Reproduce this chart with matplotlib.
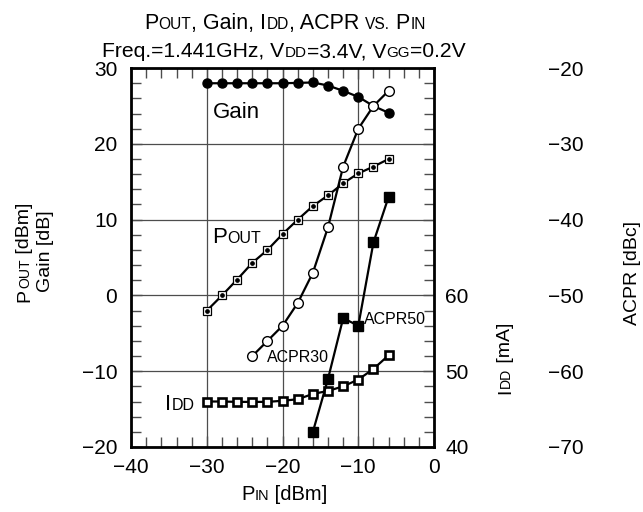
import numpy as np
import matplotlib
matplotlib.use("Agg")
import matplotlib.pyplot as plt
from matplotlib.ticker import MultipleLocator
from matplotlib.transforms import IdentityTransform

plt.rcParams['font.family'] = ['Liberation Sans', 'DejaVu Sans']

# data
pin = [-30, -28, -26, -24, -22, -20, -18, -16, -14, -12, -10, -8, -6]
gain = [28.0, 28.0, 28.0, 28.0, 28.0, 28.0, 28.05, 28.1, 27.7, 27.0, 26.2, 25.0, 24.1]
pout = [-2.0, 0.0, 2.1, 4.3, 6.0, 8.1, 10.0, 11.8, 13.2, 14.8, 16.1, 17.0, 18.0]
idd = [46.0, 46.0, 45.95, 45.95, 45.95, 46.1, 46.3, 47.0, 47.4, 48.0, 48.9, 50.3, 52.1]

pin_acpr30 = [-24, -22, -20, -18, -16, -14, -12, -10, -8, -6]
acpr30 = [-58, -56, -54, -51, -47, -41, -33, -28, -25, -23]

pin_acpr50 = [-16, -14, -12, -10, -8, -6]
acpr50 = [-68, -61, -53, -54, -43, -37]

FS = 14
TICK_FS = 15
SMALL = 0.72

fig = plt.figure(figsize=(6.43, 5.12), dpi=100)
ax = fig.add_axes([0.204, 0.127, 0.471, 0.740])
ax2 = ax.twinx()
ax3 = ax.twinx()

# main axis
ax.set_xlim(-40, 0)
ax.set_ylim(-20, 30)
ax.xaxis.set_major_locator(MultipleLocator(10))
ax.xaxis.set_minor_locator(MultipleLocator(2))
ax.yaxis.set_major_locator(MultipleLocator(10))
ax.yaxis.set_minor_locator(MultipleLocator(2))
ax.tick_params(which='both', direction='in', top=True, right=True, width=1, color='0.3')
ax.tick_params(which='major', length=8, labelsize=TICK_FS)
ax.tick_params(which='minor', length=7)
ax.tick_params(axis='y', pad=10)
ax.tick_params(axis='x', pad=8)
ax.grid(True, which='major', color='0.3', lw=0.9)
for s in ax.spines.values():
    s.set_linewidth(2)

ax.plot(pin, gain, color='black', lw=1.6, marker='o', ms=6.5, mfc='black', mec='black', zorder=3)
ax.plot(pin, pout, color='black', lw=1.6, marker='s', ms=6.3, mfc='white', mec='black', mew=0.9, zorder=3)
ax.plot(pin, pout, ls='none', marker='o', ms=2.4, mfc='black', mec='black', zorder=4)

# IDD axis
ax2.set_ylim(40, 90)
ax2.set_yticks([40, 50, 60])
ax2.tick_params(axis='y', length=0, pad=8, labelsize=TICK_FS)
for s in ax2.spines.values():
    s.set_visible(False)
ax2.plot(pin, idd, color='black', lw=1.6, marker='s', ms=6.3, mfc='white', mec='black', mew=1.9, zorder=3)

# ACPR axis
ax3.set_ylim(-70, -20)
ax3.set_yticks(np.arange(-70, -19, 10))
ax3.spines['right'].set_position(('axes', 1.375))
ax3.tick_params(axis='y', length=0, pad=0, labelsize=TICK_FS)
for s in ax3.spines.values():
    s.set_visible(False)
ax3.plot(pin_acpr30, acpr30, color='black', lw=1.6, marker='o', ms=7, mfc='white', mec='black', mew=1, zorder=3)
ax3.plot(pin_acpr50, acpr50, color='black', lw=1.6, marker='s', ms=7, mfc='black', mec='black', zorder=3)

fig.canvas.draw()
renderer = fig.canvas.get_renderer()


def rich(x, y, parts, trans=None, rotation=0, center=False, size=FS):
    # text with small caps parts, placed piece by piece in pixels
    if trans is not None:
        x, y = trans.transform((x, y))
    texts = []
    lengths = []
    for s, small in parts:
        t = fig.text(0, 0, s, fontsize=size * SMALL if small else size,
                     rotation=rotation, rotation_mode='anchor',
                     ha='left', va='baseline', transform=IdentityTransform())
        bb = t.get_window_extent(renderer)
        texts.append(t)
        lengths.append(bb.height if rotation == 90 else bb.width)
    dx, dy = (0, 1) if rotation == 90 else (1, 0)
    pos = -sum(lengths) / 2 if center else 0
    for t, l in zip(texts, lengths):
        t.set_position((x + pos * dx, y + pos * dy))
        pos += l


H = 512
# titles
rich(285, H - 29, [("P", 0), ("OUT", 1), (", Gain, I", 0), ("DD", 1), (", ACPR ", 0),
                   ("VS.", 1), (" P", 0), ("IN", 1)], center=True, size=15.5)
rich(284, H - 57, [("Freq.=1.441GHz, V", 0), ("DD", 1), ("=3.4V, V", 0), ("GG", 1),
                   ("=0.2V", 0)], center=True, size=15.2)

# axis labels
rich(284, H - 500, [("P", 0), ("IN", 1), (" [dBm]", 0)], center=True, size=14.5)
rich(29, H - 252, [("P", 0), ("OUT", 1), (" [dBm]", 0)], rotation=90, center=True)
rich(50, H - 251, [("Gain [dB]", 0)], rotation=90, center=True)
rich(510, H - 358, [("I", 0), ("DD", 1), (" [mA]", 0)], rotation=90, center=True)
rich(637, H - 273, [("ACPR [dBc]", 0)], rotation=90, center=True)

# curve labels
rich(-29.2, 23.4, [("Gain", 0)], trans=ax.transData, size=16)
rich(-29.3, 6.9, [("P", 0), ("OUT", 1)], trans=ax.transData, size=16)
rich(-35.5, -15.1, [("I", 0), ("DD", 1)], trans=ax.transData, size=16)
rich(-9.2, -3.75, [("ACPR50", 0)], trans=ax.transData, size=11.5)
rich(-22.1, -8.8, [("ACPR30", 0)], trans=ax.transData, size=11.5)

fig.savefig("out.png", dpi=100)
